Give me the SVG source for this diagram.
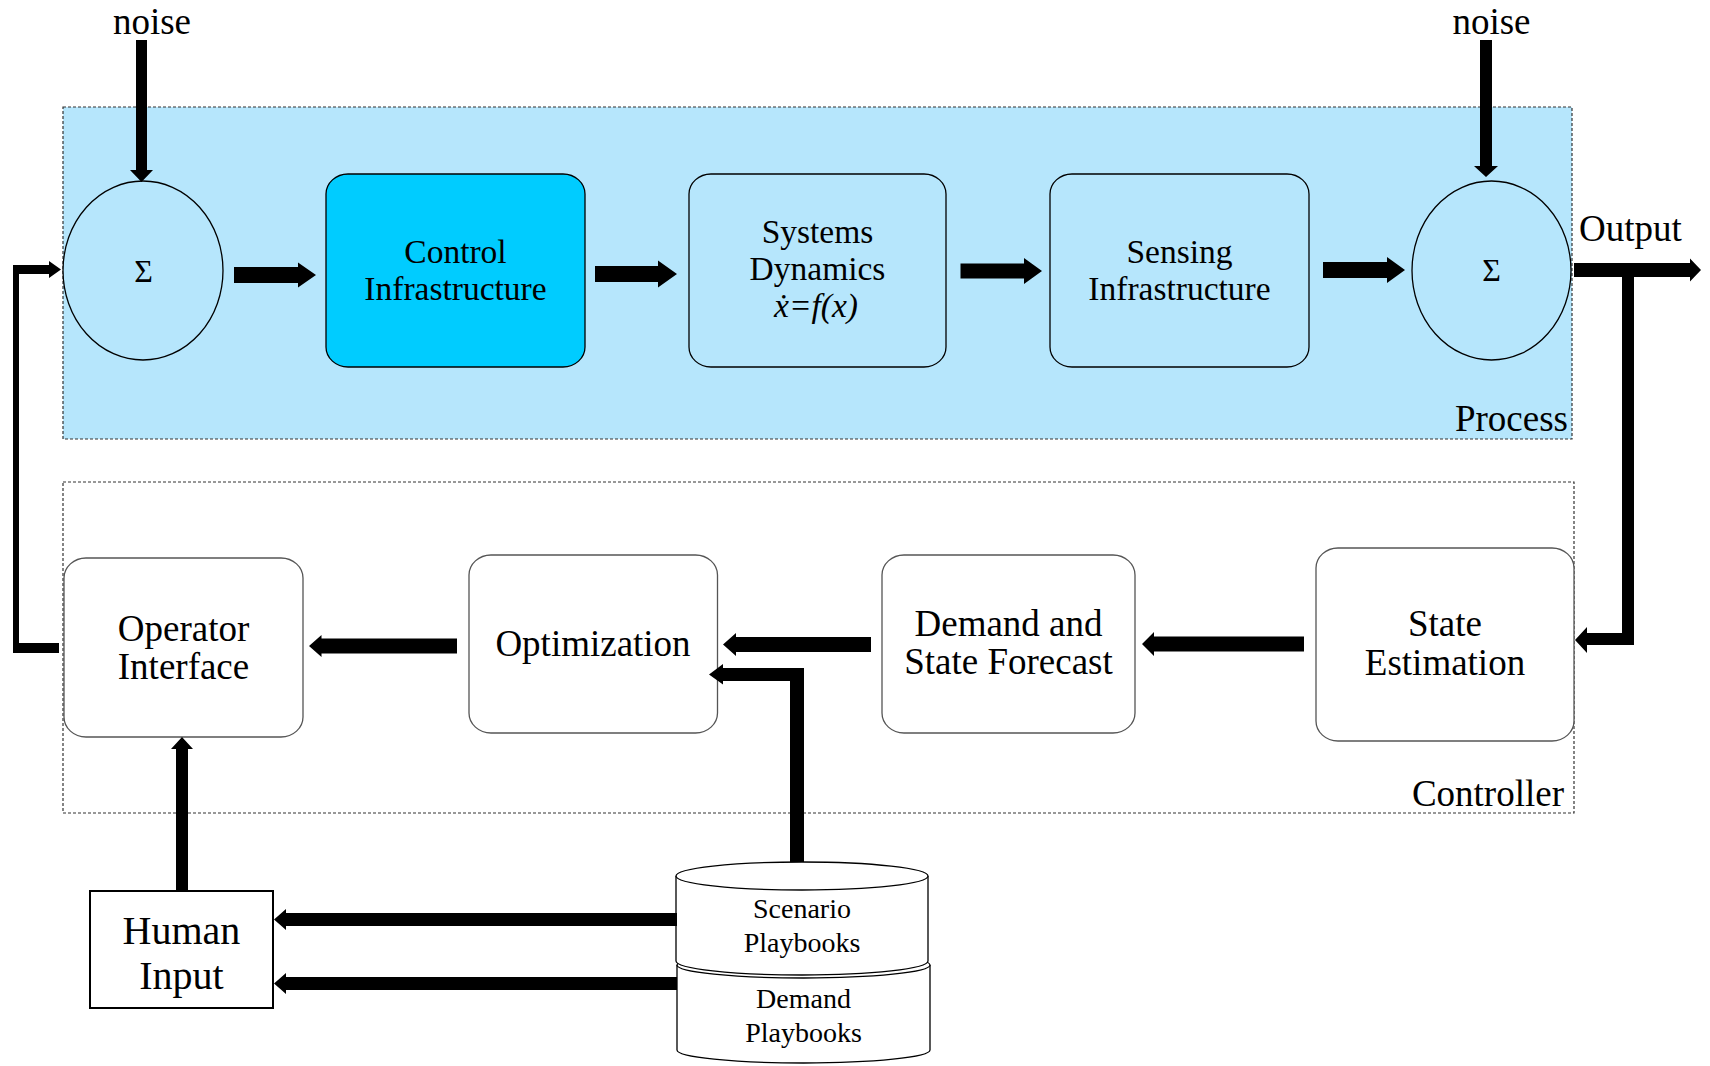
<svg xmlns="http://www.w3.org/2000/svg" width="1710" height="1066" viewBox="0 0 1710 1066">
<style>
text{font-family:"Liberation Serif","Times New Roman","DejaVu Serif",serif;fill:#000}
.c{text-anchor:middle}
.e{text-anchor:end}
.f34{font-size:33.5px}
.f37{font-size:37px}
.f40{font-size:40px}
.f28{font-size:28px}
.f32{font-size:32px}
.it{font-style:italic}
.cont{stroke:#333;stroke-width:1.2;stroke-dasharray:3 2}
.pbox{fill:#b6e6fc;stroke:#000;stroke-width:1.3}
.cbox{fill:#fff;stroke:#555;stroke-width:1.3}
.cyl{fill:#fff;stroke:#000;stroke-width:1.3}
.arr{fill:#000;stroke:none}
</style>
<g id="process-container">
<rect x="63" y="107" width="1509" height="332" fill="#b6e6fc" class="cont"/>
<text class="f37 e" x="1568" y="431">Process</text>
</g>
<g id="controller-container">
<rect x="63" y="482" width="1511" height="331" fill="none" class="cont"/>
<text class="f37 e" x="1564" y="806">Controller</text>
</g>
<g id="noise-left"><text class="f37 c" x="152" y="34">noise</text></g>
<g id="noise-right"><text class="f37 c" x="1491.5" y="34">noise</text></g>
<g id="output-label"><text class="f37" x="1579" y="241">Output</text></g>
<g id="sum1">
<ellipse cx="143" cy="270.5" rx="80" ry="89.5" class="pbox"/>
<text class="f32 c" x="143.5" y="282">Σ</text>
</g>
<g id="control-infrastructure">
<rect x="326" y="174" width="259" height="193" rx="22" ry="20" fill="#00ccff" stroke="#000" stroke-width="1.3"/>
<text class="f34 c" x="455.5" y="263">Control</text>
<text class="f34 c" x="455.5" y="300">Infrastructure</text>
</g>
<g id="systems-dynamics">
<rect x="689" y="174" width="257" height="193" rx="22" ry="20" class="pbox"/>
<text class="f34 c" x="817.5" y="243">Systems</text>
<text class="f34 c" x="817.5" y="280">Dynamics</text>
<text class="f34 c it" x="816" y="317">ẋ=f(x)</text>
</g>
<g id="sensing-infrastructure">
<rect x="1050" y="174" width="259" height="193" rx="22" ry="20" class="pbox"/>
<text class="f34 c" x="1179.5" y="263">Sensing</text>
<text class="f34 c" x="1179.5" y="300">Infrastructure</text>
</g>
<g id="sum2">
<ellipse cx="1491.5" cy="270.5" rx="79.5" ry="89.5" class="pbox"/>
<text class="f32 c" x="1491.5" y="281">Σ</text>
</g>
<g id="operator-interface">
<rect x="64" y="558" width="239" height="179" rx="22" ry="20" class="cbox"/>
<text class="f37 c" x="183.5" y="641">Operator</text>
<text class="f37 c" x="183.5" y="679">Interface</text>
</g>
<g id="optimization">
<rect x="469" y="555" width="248.5" height="178" rx="22" ry="20" class="cbox"/>
<text class="f37 c" x="593" y="656">Optimization</text>
</g>
<g id="demand-state-forecast">
<rect x="882" y="555" width="253" height="178" rx="22" ry="20" class="cbox"/>
<text class="f37 c" x="1008.5" y="636">Demand and</text>
<text class="f37 c" x="1008.5" y="674">State Forecast</text>
</g>
<g id="state-estimation">
<rect x="1316" y="548" width="258" height="193" rx="22" ry="20" class="cbox"/>
<text class="f37 c" x="1445" y="636">State</text>
<text class="f37 c" x="1445" y="675">Estimation</text>
</g>
<g id="human-input">
<rect x="90" y="891" width="183" height="117" fill="#fff" stroke="#000" stroke-width="2"/>
<text class="f40 c" x="181.5" y="944">Human</text>
<text class="f40 c" x="181.5" y="989">Input</text>
</g>
<g id="demand-playbooks">
<path class="cyl" d="M677,965 A126.5,13 0 0,1 930,965 L930,1050 A126.5,13 0 0,1 677,1050 Z"/>
<path class="cyl" fill="none" d="M677,965 A126.5,13 0 0,0 930,965"/>
<text class="f28 c" x="803.5" y="1008">Demand</text>
<text class="f28 c" x="803.5" y="1042">Playbooks</text>
</g>
<g id="scenario-playbooks">
<path class="cyl" d="M676,876 A126,14 0 0,1 928,876 L928,961 A126,14 0 0,1 676,961 Z"/>
<path class="cyl" fill="none" d="M676,876 A126,14 0 0,0 928,876"/>
<text class="f28 c" x="802" y="918">Scenario</text>
<text class="f28 c" x="802" y="952">Playbooks</text>
</g>
<g id="connectors">
<polygon class="arr" points="136,40 147,40 147,170 153,170 141.5,182 130,170 136,170"/>
<polygon class="arr" points="1480,40 1492,40 1492,166 1498,166 1486,177 1474,166 1480,166"/>
<polygon class="arr" points="234,267 298,267 298,262.5 316,275 298,287.5 298,283 234,283"/>
<polygon class="arr" points="595,266 658,266 658,260.5 677,274 658,287.5 658,282 595,282"/>
<polygon class="arr" points="960.5,263.5 1024,263.5 1024,258 1042,271 1024,284 1024,278.5 960.5,278.5"/>
<polygon class="arr" points="1323,262 1387,262 1387,257 1405,270 1387,283 1387,278 1323,278"/>
<polygon class="arr" points="1574,263 1690,263 1690,258.5 1701,270 1690,281.5 1690,277 1634,277 1634,645 1587,645 1587,653 1575,640 1587,627 1587,633 1622,633 1622,277 1574,277"/>
<polygon class="arr" points="1304,636.5 1154,636.5 1154,632 1142,644 1154,656 1154,651.5 1304,651.5"/>
<polygon class="arr" points="871,637 736,637 736,633 723,644.5 736,656 736,652 871,652"/>
<polygon class="arr" points="457,638.5 321.5,638.5 321.5,635 309,646 321.5,657 321.5,653.5 457,653.5"/>
<polygon class="arr" points="790,862 790,681 723,681 723,684.5 709,674.5 723,664 723,668 804,668 804,862"/>
<polygon class="arr" points="176,891 176,749 171,749 182,737 193,749 188,749 188,891"/>
<polygon class="arr" points="677,913 286,913 286,909 274,919.5 286,930 286,926 677,926"/>
<polygon class="arr" points="677,977 286,977 286,973 274,983.5 286,994 286,990 677,990"/>
<polygon class="arr" points="13,653 13,265 49,265 49,261 61,269.5 49,278 49,274 19,274 19,643 59,643 59,653"/>
</g>
</svg>
